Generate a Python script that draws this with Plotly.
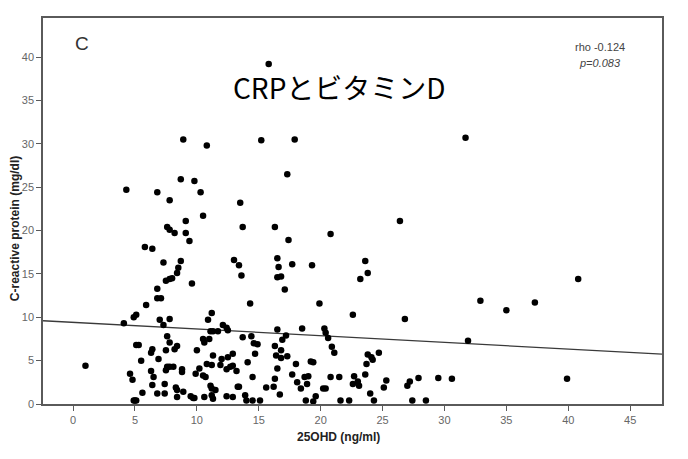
import plotly.graph_objects as go

# 25OHD (ng/ml) values
vitd = [
    8.9, 10.8, 15.2, 8.7, 9.8, 4.3, 6.8, 10.3, 7.8, 13.5,
    10.5, 9.1, 13.7, 7.6, 7.8, 8.2, 9.1, 9.4, 5.8, 6.4,
    13.0, 13.4, 13.6, 7.3, 8.7, 8.5, 8.4, 8.0, 7.8, 7.5,
    9.6, 6.8, 6.8, 7.1, 5.9, 5.1, 4.9, 4.1, 7.0, 7.8,
    7.3, 11.2, 10.9, 14.3, 12.1, 12.4, 12.5, 11.1, 11.3, 11.7,
    7.6, 7.8, 5.1, 5.3, 8.4, 8.2, 7.5, 6.4, 6.3, 10.5,
    10.6, 11.0, 13.7, 14.4, 14.6, 14.9, 10.0, 12.9, 12.5, 12.0,
    14.7, 11.3, 5.5, 6.9, 1.0, 7.8, 7.6, 8.1, 7.5, 8.8,
    8.8, 10.8, 11.2, 10.2, 11.9, 12.7, 12.9, 12.4, 13.2, 14.1,
    4.6, 4.8, 6.3, 6.5, 9.9, 10.5, 10.7, 14.5, 6.4, 7.4,
    8.3, 8.4, 11.1, 11.2, 11.5, 13.3, 13.4, 5.6, 6.8, 7.4,
    8.9, 8.4, 9.5, 9.7, 9.8, 10.6, 11.2, 11.3, 12.4, 12.9,
    13.9, 14.0, 14.5, 15.1, 4.9, 5.0, 5.1,
    17.9, 31.7, 17.3, 26.4, 16.3, 17.4, 20.8, 16.5, 16.6, 17.7,
    19.3, 23.6, 16.5, 16.8, 23.8, 23.2, 17.1, 19.9, 32.9, 35.0,
    37.3, 40.8, 39.9, 22.6, 26.8, 16.5, 18.5, 17.2, 16.9, 20.3,
    20.4, 20.6, 31.9, 16.3, 16.8, 16.4, 16.8, 17.3, 20.9, 21.1,
    23.8, 24.1, 24.2, 24.7, 23.7, 19.2, 19.4, 16.5, 18.0, 17.7,
    18.7, 19.0, 16.3, 18.1, 18.9, 20.8, 21.5, 22.7, 23.0, 22.6,
    23.1, 23.6, 25.3, 25.1, 27.2, 27.0, 27.9, 29.5, 30.6, 15.6,
    16.2, 18.4, 20.2, 20.4, 16.7, 19.6, 24.0, 18.8, 19.4, 21.6,
    22.3, 24.3, 27.4, 28.5, 15.8,
]

# C-reactive protein (mg/dl) values
crp = [
    30.5, 29.8, 30.4, 25.9, 25.7, 24.7, 24.4, 24.4, 23.5, 23.2,
    21.7, 21.1, 20.4, 20.4, 20.1, 19.7, 19.7, 18.8, 18.1, 17.9,
    16.6, 16.0, 14.8, 16.3, 16.5, 15.7, 15.1, 14.5, 14.4, 14.2,
    13.9, 13.3, 12.2, 12.2, 11.4, 10.3, 10.0, 9.3, 9.7, 9.8,
    9.1, 10.5, 9.7, 11.6, 9.1, 8.8, 8.5, 8.4, 8.4, 8.4,
    7.8, 7.1, 6.8, 6.8, 6.7, 6.3, 6.2, 6.3, 5.9, 7.5,
    7.1, 7.5, 7.7, 7.8, 7.0, 6.9, 6.2, 5.8, 5.4, 5.2,
    5.8, 5.6, 5.0, 5.2, 4.4, 4.3, 4.3, 4.3, 3.9, 4.0,
    3.7, 4.6, 4.5, 4.1, 4.5, 4.3, 4.4, 4.0, 3.8, 4.8,
    3.5, 2.8, 3.8, 3.1, 3.5, 3.3, 3.1, 3.1, 2.2, 2.3,
    1.9, 1.6, 2.1, 1.8, 1.6, 2.0, 2.0, 1.3, 1.2, 1.2,
    1.4, 0.8, 0.9, 0.7, 0.7, 0.8, 1.0, 0.6, 0.9, 0.8,
    1.0, 0.4, 0.4, 0.4, 0.4, 0.4, 0.4,
    30.5, 30.7, 26.5, 21.1, 20.4, 18.9, 19.6, 16.8, 15.8, 16.1,
    16.0, 16.5, 14.6, 14.7, 15.1, 14.4, 13.2, 11.6, 11.9, 10.8,
    11.7, 14.4, 2.9, 10.3, 9.8, 8.6, 8.7, 7.9, 7.4, 8.7,
    8.2, 7.6, 7.3, 6.7, 6.2, 5.6, 5.3, 5.5, 6.6, 5.9,
    5.7, 5.4, 5.1, 5.9, 4.6, 4.9, 4.8, 4.1, 4.6, 3.4,
    3.1, 3.2, 2.9, 2.5, 2.3, 3.1, 3.1, 3.2, 2.6, 2.3,
    2.1, 3.4, 2.7, 1.9, 2.6, 2.1, 3.0, 3.0, 2.9, 1.9,
    2.0, 1.8, 1.8, 1.8, 1.1, 0.9, 1.2, 0.4, 0.3, 0.4,
    0.4, 0.4, 0.4, 0.4, 39.2,
]

# Fit line (linear regression shown in the figure)
fit_intercept = 9.41
fit_slope = -0.0768

x_min, x_max = -2.43, 47.57
y_min, y_max = 0, 44.5

x_ticks = [0, 5, 10, 15, 20, 25, 30, 35, 40, 45]
y_ticks = [0, 5, 10, 15, 20, 25, 30, 35, 40]

panel_label = "C"
chart_title = "CRPとビタミンD"
rho_text = "rho -0.124"
p_text = "<i>p=0.083</i>"
x_title = "<b>25OHD (ng/ml)</b>"
y_title = "<b>C-reactive protein (mg/dl)</b>"

fit_x = [x_min, x_max]
fit_y = [fit_intercept + fit_slope * v for v in fit_x]

axis_col = "#5a5a5a"
tick_font = dict(family="Liberation Sans, Arial, sans-serif", size=11, color="#666666")

fig = go.Figure()
fig.add_trace(go.Scatter(
    x=fit_x, y=fit_y, mode="lines",
    line=dict(color="#3a3a3a", width=1.3),
    hoverinfo="skip", showlegend=False,
))
fig.add_trace(go.Scatter(
    x=vitd, y=crp, mode="markers",
    marker=dict(color="black", size=6.5, line=dict(width=0)),
    showlegend=False,
))

fig.update_layout(
    width=688, height=459,
    margin=dict(l=43, r=26, t=18, b=55),
    paper_bgcolor="white", plot_bgcolor="white",
    xaxis=dict(
        range=[x_min, x_max], tickvals=x_ticks, showgrid=False, zeroline=False,
        showline=True, mirror=True, linecolor=axis_col, linewidth=1.5,
        ticks="outside", ticklen=5, tickcolor=axis_col, tickwidth=1,
        tickfont=tick_font, automargin=False,
    ),
    yaxis=dict(
        range=[y_min, y_max], tickvals=y_ticks, showgrid=False, zeroline=False,
        showline=True, mirror=True, linecolor=axis_col, linewidth=1.5,
        ticks="outside", ticklen=5, tickcolor=axis_col, tickwidth=1,
        tickfont=tick_font, automargin=False,
    ),
    annotations=[
        dict(text=panel_label, xref="paper", yref="paper", x=0.048, y=0.935,
             xanchor="left", yanchor="middle", showarrow=False,
             font=dict(family="Liberation Sans, Arial, sans-serif", size=19, color="#333")),
        dict(text=chart_title, xref="paper", yref="paper", x=0.479, y=0.822,
             xanchor="center", yanchor="middle", showarrow=False,
             font=dict(family="Noto Sans CJK JP, Noto Sans, sans-serif", size=28, color="black")),
        dict(text=rho_text, xref="paper", yref="paper", x=0.9, y=0.926,
             xanchor="center", yanchor="middle", showarrow=False,
             font=dict(family="Liberation Sans Narrow, Liberation Sans, sans-serif", size=11, color="#444")),
        dict(text=p_text, xref="paper", yref="paper", x=0.9, y=0.883,
             xanchor="center", yanchor="middle", showarrow=False,
             font=dict(family="Liberation Sans Narrow, Liberation Sans, sans-serif", size=11, color="#444")),
        dict(text=x_title, xref="paper", yref="paper", x=0.478, y=-0.085,
             xanchor="center", yanchor="middle", showarrow=False,
             font=dict(family="Liberation Sans, Arial, sans-serif", size=12, color="#222")),
        dict(text=y_title, xref="paper", yref="paper", x=-0.044, y=0.455,
             xanchor="center", yanchor="middle", showarrow=False, textangle=-90,
             font=dict(family="Liberation Sans, Arial, sans-serif", size=12, color="#222")),
    ],
)

fig.write_html("out.html", config={"displayModeBar": False},
               post_script="document.body.style.margin='0';")
